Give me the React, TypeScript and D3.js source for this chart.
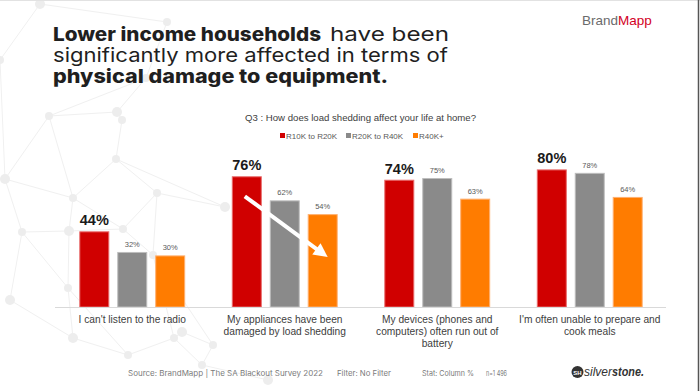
import React, { useEffect, useRef } from 'react';
import * as d3 from 'd3';

// chart data
const categories = ['radio', 'appliances', 'devices', 'meals'];
const categoryLines = [
	["I can't listen to the radio"],
	['My appliances have been', 'damaged by load shedding'],
	['My devices (phones and', 'computers) often run out of', 'battery'],
	["I'm often unable to prepare and", 'cook meals'],
];
const seriesNames = ['R10K to R20K', 'R20K to R40K', 'R40K+'];
const lowIncome = [44, 76, 74, 80];
const midIncome = [32, 62, 75, 78];
const highIncome = [30, 54, 63, 64];

// background network (decoration only)
const netNodes = [
	[40, 4], [167, 22], [49, 116], [117, 112], [122, 120], [116, 159], [5, 179], [73, 198],
	[22, 232], [69, 231], [123, 229], [157, 193], [225, 207], [153, 255], [68, 288], [73, 338],
	[128, 355], [174, 338], [182, 332], [213, 345], [202, 365], [268, 380], [146, 78], [0, 60], [10, 300],
];
const netEdges = [
	[0, 1], [0, 23], [1, 22], [22, 3], [22, 2], [2, 3], [2, 6], [3, 4], [4, 5], [5, 7], [5, 11],
	[2, 7], [6, 7], [6, 8], [7, 9], [7, 10], [9, 8], [9, 10], [10, 11], [11, 12], [10, 13], [11, 13],
	[5, 12], [9, 14], [8, 14], [14, 15], [14, 16], [15, 16], [16, 17], [17, 18], [18, 19], [19, 20],
	[20, 21], [17, 20], [13, 17], [24, 15], [24, 8], [23, 6], [13, 19],
];

const App = () => {
	const chartRef = useRef(null);

	useEffect(() => {
		const width = 700;
		const height = 391;
		d3.select(chartRef.current).selectAll('*').remove();

		const svg = d3.select(chartRef.current)
			.append('svg')
			.attr('width', width)
			.attr('height', height)
			.style('position', 'absolute')
			.style('left', 0)
			.style('top', 0)
			.style('background', '#fff');

		// network decoration
		const net = svg.append('g');
		netEdges.forEach(([a, b]) => {
			net.append('line')
				.attr('x1', netNodes[a][0]).attr('y1', netNodes[a][1])
				.attr('x2', netNodes[b][0]).attr('y2', netNodes[b][1])
				.attr('stroke', '#f0f0f0').attr('stroke-width', 1);
		});
		netNodes.forEach(([x, y], i) => {
			net.append('circle').attr('cx', x).attr('cy', y).attr('r', i % 3 === 0 ? 5 : 4).attr('fill', '#ededed');
		});

		// borders
		svg.append('line').attr('x1', 0).attr('x2', width).attr('y1', 0.5).attr('y2', 0.5).attr('stroke', '#e2e2e2');
		svg.append('line').attr('x1', 698.5).attr('x2', 698.5).attr('y1', 0).attr('y2', height).attr('stroke', '#555').attr('stroke-width', 1.5);

		// title
		const title = svg.append('g').style('font-family', 'Inter, sans-serif').style('font-size', '19px').attr('fill', '#1f1f1f');
		title.append('text').attr('x', 53).attr('y', 41).attr('font-weight', 800).attr('textLength', 268).attr('lengthAdjust', 'spacingAndGlyphs').text('Lower income households');
		title.append('text').attr('x', 330).attr('y', 41).attr('textLength', 119).attr('lengthAdjust', 'spacingAndGlyphs').text('have been');
		title.append('text').attr('x', 53).attr('y', 62).attr('textLength', 395).attr('lengthAdjust', 'spacingAndGlyphs').text('significantly more affected in terms of');
		title.append('text').attr('x', 53).attr('y', 83).attr('font-weight', 800).attr('textLength', 335).attr('lengthAdjust', 'spacingAndGlyphs').text('physical damage to equipment.');

		// brand
		const brand = svg.append('text').attr('x', 582).attr('y', 25).style('font-family', 'Liberation Sans, Arial, sans-serif').style('font-size', '13.5px');
		brand.append('tspan').attr('fill', '#6b6b6b').text('Brand');
		brand.append('tspan').attr('fill', '#d3001e').text('Mapp');

		// question
		svg.append('text').attr('x', 245).attr('y', 121)
			.attr('textLength', 231).attr('lengthAdjust', 'spacingAndGlyphs')
			.style('font-family', 'Liberation Sans, Arial, sans-serif').style('font-size', '9px')
			.attr('fill', '#404040')
			.text('Q3 : How does load shedding affect your life at home?');

		const color = d3.scaleOrdinal().domain(seriesNames).range(['#d00000', '#8a8a8a', '#ff7c00']);
		const edge = d3.scaleOrdinal().domain(seriesNames).range(['#e86a6a', '#bdbdbd', '#ffb070']);

		// legend
		const legendX = [280, 346, 413];
		seriesNames.forEach((s, i) => {
			svg.append('rect').attr('x', legendX[i]).attr('y', 133).attr('width', 5).attr('height', 5).attr('fill', color(s));
			svg.append('text').attr('x', legendX[i] + 6).attr('y', 138.5)
				.style('font-family', 'Liberation Sans, Arial, sans-serif').style('font-size', '8px')
				.attr('fill', '#595959').text(s);
		});

		// scales
		const x0 = d3.scaleBand().domain(categories).range([56, 666]);
		const x1 = d3.scaleBand().domain(seriesNames).range([0, x0.bandwidth()]).paddingInner(0.21).paddingOuter(0.614);
		const y = d3.scaleLinear().domain([0, 100]).range([307, 135]);

		const rows = categories.map((c, i) => ({ cat: c, values: [lowIncome[i], midIncome[i], highIncome[i]] }));

		const groups = svg.append('g').selectAll('g').data(rows).join('g')
			.attr('transform', d => `translate(${x0(d.cat)},0)`);

		groups.selectAll('rect')
			.data(d => d.values.map((v, j) => ({ key: seriesNames[j], value: v })))
			.join('rect')
			.attr('x', d => x1(d.key) + 0.5)
			.attr('y', d => y(d.value) + 0.5)
			.attr('width', x1.bandwidth() - 1)
			.attr('height', d => y(0) - y(d.value) - 0.5)
			.attr('fill', d => color(d.key))
			.attr('stroke', d => edge(d.key))
			.attr('stroke-width', 1);

		groups.selectAll('text.val')
			.data(d => d.values.map((v, j) => ({ key: seriesNames[j], value: v, first: j === 0 })))
			.join('text')
			.attr('class', 'val')
			.attr('x', d => x1(d.key) + x1.bandwidth() / 2)
			.attr('y', d => y(d.value) - (d.first ? 6 : 5))
			.attr('text-anchor', 'middle')
			.style('font-family', 'Liberation Sans, Arial, sans-serif')
			.style('font-size', d => d.first ? '14.5px' : '7.5px')
			.attr('font-weight', d => d.first ? 700 : 400)
			.attr('fill', d => d.first ? '#1a1a1a' : '#595959')
			.text(d => `${d.value}%`);

		// axis line
		svg.append('line').attr('x1', 55).attr('x2', 666).attr('y1', y(0) + 0.5).attr('y2', y(0) + 0.5)
			.attr('stroke', '#d9d9d9').attr('stroke-width', 1);

		// category labels
		categories.forEach((c, i) => {
			const t = svg.append('text')
				.attr('text-anchor', 'middle')
				.style('font-family', 'Liberation Sans, Arial, sans-serif')
				.style('font-size', '10.2px')
				.attr('fill', '#404040');
			categoryLines[i].forEach((line, k) => {
				t.append('tspan').attr('x', x0(c) + x0.bandwidth() / 2).attr('y', 323 + k * 12).text(line);
			});
		});

		// white arrow annotation
		const cat = categories[1];
		const start = [x0(cat) + x1(seriesNames[0]) + x1.bandwidth() / 2 - 2, y(lowIncome[1]) + 20];
		const tip = [x0(cat) + x1(seriesNames[2]) + x1.bandwidth() / 2 + 5, y(highIncome[1]) + 43];
		const dx = tip[0] - start[0];
		const dy = tip[1] - start[1];
		const len = Math.hypot(dx, dy);
		const ux = dx / len, uy = dy / len;
		const base = [tip[0] - ux * 14, tip[1] - uy * 14];
		svg.append('line').attr('x1', start[0]).attr('y1', start[1]).attr('x2', base[0] + ux * 2).attr('y2', base[1] + uy * 2)
			.attr('stroke', '#fff').attr('stroke-width', 4);
		svg.append('path')
			.attr('d', d3.line()([tip, [base[0] - uy * 7, base[1] + ux * 7], [base[0] + uy * 7, base[1] - ux * 7]]) + 'Z')
			.attr('fill', '#fff');

		// footer
		const foot = svg.append('g').style('font-family', 'Inter, sans-serif').style('font-size', '7.5px').attr('fill', '#7a7a7a');
		foot.append('text').attr('x', 128).attr('y', 376).attr('textLength', 195).attr('lengthAdjust', 'spacingAndGlyphs').text('Source: BrandMapp | The SA Blackout Survey 2022');
		foot.append('text').attr('x', 337).attr('y', 376).attr('textLength', 54).attr('lengthAdjust', 'spacingAndGlyphs').text('Filter: No Filter');
		foot.append('text').attr('x', 422).attr('y', 376).attr('textLength', 52).attr('lengthAdjust', 'spacingAndGlyphs').text('Stat: Column %');
		foot.append('text').attr('x', 486).attr('y', 376).attr('textLength', 21).attr('lengthAdjust', 'spacingAndGlyphs').text('n=1 496');

		// silverstone logo
		svg.append('circle').attr('cx', 577.5).attr('cy', 372).attr('r', 6).attr('fill', '#333');
		svg.append('text').attr('x', 577.5).attr('y', 374.5).attr('text-anchor', 'middle')
			.style('font-family', 'Liberation Sans, Arial, sans-serif').style('font-size', '6px').attr('font-weight', 700)
			.attr('fill', '#fff').text('SH');
		svg.append('text').attr('x', 584).attr('y', 376).attr('textLength', 28).attr('lengthAdjust', 'spacingAndGlyphs')
			.style('font-family', 'Liberation Sans, Arial, sans-serif').style('font-size', '13px').style('font-style', 'italic')
			.attr('fill', '#333').text('silver');
		svg.append('text').attr('x', 612).attr('y', 376).attr('textLength', 32).attr('lengthAdjust', 'spacingAndGlyphs')
			.style('font-family', 'Liberation Sans, Arial, sans-serif').style('font-size', '13px').style('font-style', 'italic')
			.attr('font-weight', 700).attr('fill', '#333').text('stone.');
	}, []);

	return <div ref={chartRef}></div>;
};

export default App;
